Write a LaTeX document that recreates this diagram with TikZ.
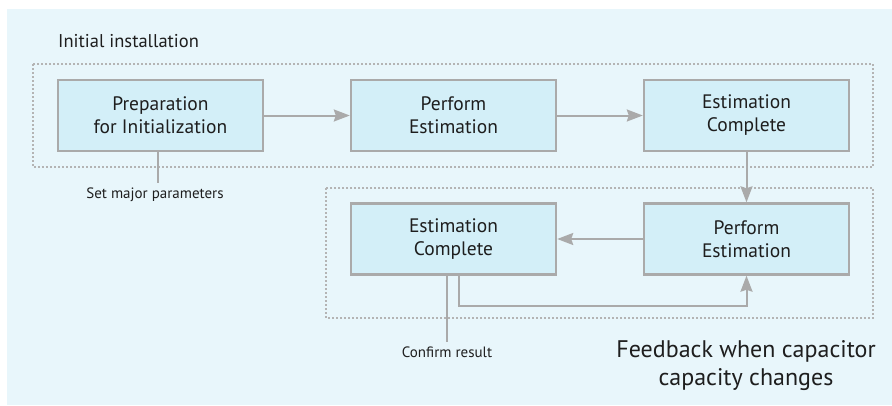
\documentclass[tikz,border=0pt]{standalone}
\usepackage{fontspec}
\setmainfont{PT Sans}
\usetikzlibrary{arrows.meta}
\definecolor{bgc}{HTML}{E8F6FB}
\definecolor{boxfill}{HTML}{D3EFF8}
\definecolor{grayline}{HTML}{AAAAAA}
\definecolor{dotc}{HTML}{B4B4B4}
\definecolor{txt}{HTML}{1E1E1E}
\tikzset{
  procbox/.style={draw=grayline, line width=2.4pt, fill=boxfill, minimum width=205pt, minimum height=71pt, inner sep=0pt, align=center, text=txt, font=\fontsize{19.5}{23}\selectfont},
  frame/.style={draw=dotc, line width=2pt, dash pattern=on 1.6pt off 2.4pt},
  flow/.style={draw=grayline, line width=2pt, -{Stealth[length=16pt,width=12pt,inset=2pt]}},
  leader/.style={draw=grayline, line width=1.6pt},
  note/.style={text=txt, inner sep=0pt, font=\fontsize{15}{18}\selectfont},
}
\begin{document}
\begin{tikzpicture}[x=1pt,y=-1pt]
\useasboundingbox (0,0) rectangle (892,405);
\fill[bgc] (7,9) rectangle (892,405);
% frames
\draw[frame] (33,64) rectangle (873,167);
\draw[frame] (326,188) rectangle (873,318);
% title
\node[anchor=west, text=txt, inner sep=0pt, font=\fontsize{18.5}{22}\selectfont] (title) at (58,41) {Initial installation};
% boxes
\node[procbox] (b1) at (160.5,115.5) {Preparation\\for Initialization};
\node[procbox] (b2) at (453.5,115.5) {Perform\\Estimation};
\node[procbox] (b3) at (746.5,115.5) {Estimation\\Complete};
\node[procbox] (b4) at (453.5,239) {Estimation\\Complete};
\node[procbox] (b5) at (746.5,239) {Perform\\Estimation};
% arrows
\draw[flow] (b1.east) -- (b2.west);
\draw[flow] (b2.east) -- (b3.west);
\draw[flow] (b3.south) -- (b5.north);
\draw[flow] (b5.west) -- (b4.west -| b4.east);
\coordinate (l1) at (459,306);
\draw[flow] (b4.south -| l1) -- (l1) -- (l1 -| b5.south) -- (b5.south);
% notes
\node[note] (n1) at (155,195) {Set major parameters};
\draw[leader] (b1.south -| 158,0) -- (158,183);
\node[note] (n2) at (447,352) {Confirm result};
\draw[leader] (b4.south -| 447,0) -- (447,342);
\node[align=center, text=txt, inner sep=0pt, font=\fontsize{24}{28}\selectfont] (fb) at (746,366) {Feedback when capacitor\\capacity changes};
\end{tikzpicture}
\end{document}
